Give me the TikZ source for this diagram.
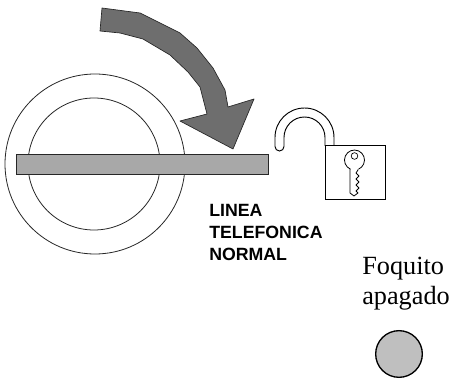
\documentclass[tikz,border=0pt]{standalone}
\usepackage{fontspec}
\setmainfont{Liberation Serif}
\newfontfamily\labelfont{Liberation Sans}
\usetikzlibrary{positioning}
\definecolor{arrowgray}{gray}{0.43}
\definecolor{bargray}{gray}{0.66}
\definecolor{lampgray}{gray}{0.75}
\begin{document}
\begin{tikzpicture}[
	x=0.75pt,y=-0.75pt,
	ringnode/.style={circle, draw=black!85, line width=0.6pt, inner sep=0pt},
	barnode/.style={rectangle, draw=black!85, fill=bargray, line width=0.8pt, inner sep=0pt, minimum width=189pt, minimum height=15.5pt},
	linetext/.style={font=\labelfont\bfseries\fontsize{13.3pt}{16.5pt}\selectfont, align=left, inner sep=0pt},
	lamptext/.style={font=\fontsize{19.7pt}{22.5pt}\selectfont, align=left, inner sep=0pt},
	lampnode/.style={circle, draw=black, fill=lampgray, line width=1pt, minimum size=35pt, inner sep=0pt},
	lockpart/.style={draw=black, fill=white, line width=0.7pt},
	]
	\useasboundingbox (0,0) rectangle (457,391);
	%Rings
	\node[ringnode, minimum size=135pt] (outer) at (95,164) {};
	\node[ringnode, minimum size=99pt] (inner) at (94,164) {};
	\node[barnode] (bar) at (142.25,164.5) {};
	%Arrow
	\draw[draw=black!85, fill=arrowgray, line width=0.5pt, line join=round]
		(102,8) -- (140,13) -- (160,23) -- (180,33) -- (197,48) -- (213,68) -- (225,90) -- (228,107)
		-- (254,99) -- (233,149) -- (180,121) -- (207,114) -- (200,87) -- (188,72) -- (170,55)
		-- (143,39) -- (120,33) -- (100,31) -- cycle;
	%Lock
	\draw[lockpart] (325,146) -- (325,137.5) arc (0:-180:20.5) -- (284,146.5)
		arc (0:180:4.5) -- (275,137.5) arc (180:360:29.5) -- (334,146);
	\node[lockpart, rectangle, minimum width=45pt, minimum height=40pt, inner sep=0pt] (lockbody) at (355,172.5) {};
	%Key
	\draw[lockpart, line width=0.6pt, line join=round] (350,168) -- (350,193) -- (354,196) -- (358,193)
		-- (356,191) -- (359,188) -- (356,185) -- (359,182) -- (356,179) -- (359,176) -- (356,173)
		-- (358,170) -- (358,168);
	\draw[lockpart, line width=0.6pt] (350.5,169.2) arc (113.5:426.5:10);
	\node[circle, draw=black, line width=0.5pt, minimum size=5pt, inner sep=0pt] (keyhole) at (354.5,156) {};
	%Labels
	\node[linetext, anchor=north west] (linelabel) at (209,204) {LINEA\\TELEFONICA\\NORMAL};
	\node[lamptext, anchor=west] (lamplabel) at (362,284) {Foquito\\apagado};
	\node[lampnode] (lamp) at (399,354) {};
\end{tikzpicture}
\end{document}
